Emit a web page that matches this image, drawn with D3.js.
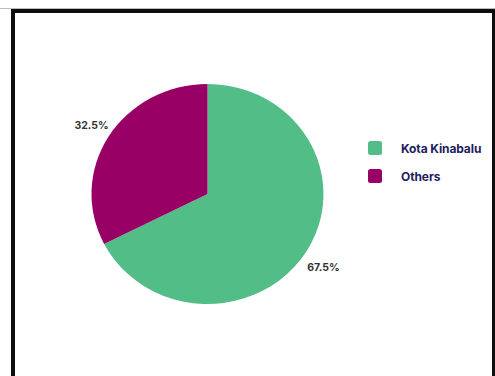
<!DOCTYPE html>
<html>
<head>
<meta charset="utf-8">
<script src="https://cdn.jsdelivr.net/npm/d3@7"></script>
<style>
  html, body { margin: 0; padding: 0; background: #fff; }
  svg { display: block; }
</style>
</head>
<body>
<svg id="chart" width="495" height="376"></svg>
<script>
const categories = ["Kota Kinabalu", "Others"];
const shares = [67.5, 32.5];
const labels = ["67.5%", "32.5%"];

const sliceColors = ["#52bd87", "#990066"];
const legendTextColor = "#1d1d5e";
const labelColor = "#333333";

const width = 495;
const height = 376;
const cx = 207.5;
const cy = 194;
const rx = 116;
const ry = 110;
const labelR = 136;

const svg = d3.select("#chart");

// frame
svg.append("rect")
    .attr("x", 0).attr("y", 8).attr("width", width).attr("height", 1)
    .attr("fill", "#bdbdbd");
svg.append("rect")
    .attr("x", 11).attr("y", 9).attr("width", 484).attr("height", height)
    .attr("fill", "#0d0d0d");
svg.append("rect")
    .attr("x", 15).attr("y", 13).attr("width", 477).attr("height", height)
    .attr("fill", "#ffffff");

const data = categories.map((c, i) => ({ name: c, value: shares[i], label: labels[i] }));

const pie = d3.pie().sort(null).value((d) => d.value);
const arcs = pie(data);

const arc = d3.arc().innerRadius(0).outerRadius(rx);
const labelArc = d3.arc().innerRadius(labelR).outerRadius(labelR);

const pieG = svg.append("g")
    .attr("transform", `translate(${cx},${cy}) scale(1,${ry / rx})`);

pieG.selectAll("path")
    .data(arcs)
    .join("path")
    .attr("d", arc)
    .attr("fill", (d, i) => sliceColors[i]);

svg.append("g")
    .attr("transform", `translate(${cx},${cy + 2})`)
    .selectAll("text")
    .data(arcs)
    .join("text")
    .attr("transform", (d) => `translate(${labelArc.centroid(d)})`)
    .attr("text-anchor", "middle")
    .attr("dy", "0.35em")
    .style("font-family", "Inter, 'Open Sans', sans-serif")
    .style("font-weight", 700)
    .style("font-size", "10.5px")
    .style("fill", labelColor)
    .text((d) => d.data.label);

// legend
const legend = svg.append("g").attr("transform", "translate(368,141)");
const item = legend.selectAll("g")
    .data(categories)
    .join("g")
    .attr("transform", (d, i) => `translate(0,${i * 28})`);

item.append("rect")
    .attr("width", 14).attr("height", 14)
    .attr("rx", 2.5)
    .attr("fill", (d, i) => sliceColors[i]);

item.append("text")
    .attr("x", 33)
    .attr("y", 11.5)
    .style("font-family", "Inter, 'Open Sans', sans-serif")
    .style("font-weight", 700)
    .style("font-size", "12px")
    .style("letter-spacing", "-0.1px")
    .style("fill", legendTextColor)
    .text((d) => d);
</script>
</body>
</html>
